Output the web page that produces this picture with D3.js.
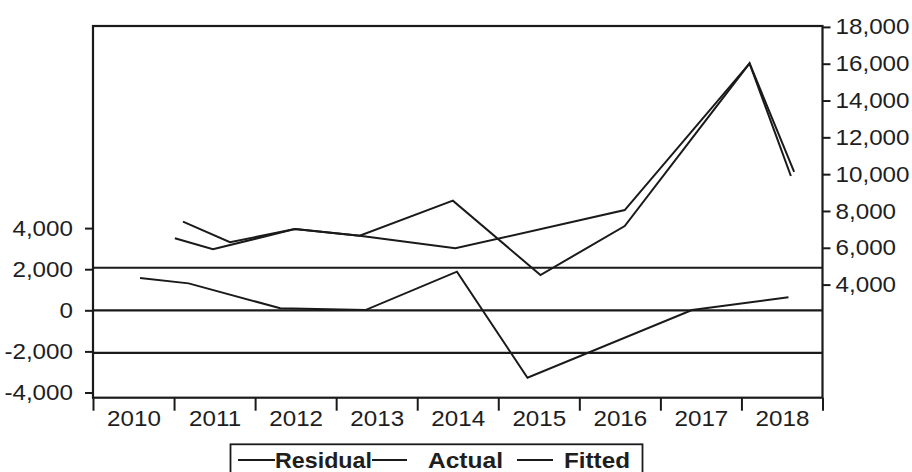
<!DOCTYPE html>
<html>
<head>
<meta charset="utf-8">
<script src="https://cdn.jsdelivr.net/npm/d3@7"></script>
<style>
  html, body { margin: 0; padding: 0; background: #fff; }
  svg { display: block; }
  text { font-family: "Liberation Sans", Arial, sans-serif; fill: #1e1e1e; }
</style>
</head>
<body>
<svg id="chart" width="912" height="472"></svg>
<script>
// ---- data ----
const years = [2010, 2011, 2012, 2013, 2014, 2015, 2016, 2017, 2018];
const residualX = [2010.08, 2010.68, 2011.81, 2012.86, 2013.99, 2014.86, 2016.89, 2018.08];
const residualY = [1570, 1310, 100, 10, 1880, -3280, 10, 630];
const actualX = [2010.61, 2011.19, 2011.99, 2012.79, 2013.94, 2015.02, 2016.06, 2017.60, 2018.15];
const actualY = [7420, 6300, 7020, 6660, 8560, 4520, 7180, 16020, 10130];
const fittedX = [2010.51, 2010.98, 2011.99, 2012.79, 2013.97, 2016.06, 2017.60, 2018.11];
const fittedY = [6520, 5920, 7020, 6660, 5970, 8050, 16020, 9900];
const refLines = [2070, 0, -2070];
const leftTicks = [-4000, -2000, 0, 2000, 4000];
const rightTicks = [4000, 6000, 8000, 10000, 12000, 14000, 16000, 18000];
const legendLabels = ["Residual", "Actual", "Fitted"];

// ---- layout ----
const svg = d3.select("#chart");
const L = 93, R = 822.5, T = 26, B = 397.7;
const ink = "#1a1a1a";
const fmt = d => d3.format(",")(d).replace("\u2212", "-");
const stretch = 1.1;

const x = d3.scaleLinear().domain([2009.5, 2018.5]).range([L, R]);
const yL = d3.scaleLinear().domain([-4000, 4000]).range([392.5, 228.1]);
const yR = d3.scaleLinear().domain([4000, 18000]).range([284.6, 26.9]);

function styleLabels(sel) {
  sel.attr("font-size", 22).attr("font-family", null).attr("fill", ink)
    .each(function () {
      const w = this.getComputedTextLength();
      d3.select(this).attr("textLength", w * stretch).attr("lengthAdjust", "spacingAndGlyphs");
    });
}

// reference lines
svg.append("g").selectAll("line").data(refLines).join("line")
  .attr("x1", L).attr("x2", R)
  .attr("y1", d => yL(d)).attr("y2", d => yL(d))
  .attr("stroke", ink).attr("stroke-width", 2.2);

// series lines
const mk = (xs, ys, ysc) => xs.map((v, i) => [x(v), ysc(ys[i])]);
const lineGen = d3.line();
const series = [
  mk(residualX, residualY, yL),
  mk(actualX, actualY, yR),
  mk(fittedX, fittedY, yR)
];
svg.append("g").selectAll("path").data(series).join("path")
  .attr("d", d => lineGen(d))
  .attr("fill", "none").attr("stroke", ink).attr("stroke-width", 2)
  .attr("stroke-linejoin", "miter");

// frame
svg.append("rect").attr("x", L).attr("y", T).attr("width", R - L).attr("height", B - T)
  .attr("fill", "none").attr("stroke", ink).attr("stroke-width", 2.2);

// left axis
const gl = svg.append("g").attr("transform", `translate(${L},0)`)
  .call(d3.axisLeft(yL).tickValues(leftTicks).tickFormat(fmt).tickSize(8).tickPadding(12));
gl.select(".domain").remove();
gl.selectAll(".tick line").attr("stroke", ink).attr("stroke-width", 2);
styleLabels(gl.selectAll(".tick text"));

// right axis
const gr = svg.append("g").attr("transform", `translate(${R},0)`)
  .call(d3.axisRight(yR).tickValues(rightTicks).tickFormat(fmt).tickSize(8).tickPadding(5));
gr.select(".domain").remove();
gr.selectAll(".tick line").attr("stroke", ink).attr("stroke-width", 2);
styleLabels(gr.selectAll(".tick text"));

// bottom axis: tick marks at year boundaries
const gb = svg.append("g").attr("transform", `translate(0,${B})`)
  .call(d3.axisBottom(x).tickValues(d3.range(years[0] - 0.5, years[years.length - 1] + 0.6, 1))
    .tickFormat("").tickSize(13));
gb.select(".domain").remove();
gb.selectAll(".tick line").attr("stroke", ink).attr("stroke-width", 2);

// bottom axis: labels at year centres
const gb2 = svg.append("g").attr("transform", `translate(0,${B})`)
  .call(d3.axisBottom(x).tickValues(years).tickFormat(d3.format("d")).tickSize(0).tickPadding(13));
gb2.select(".domain").remove();
styleLabels(gb2.selectAll(".tick text"));

// legend
const lg = svg.append("g");
lg.append("rect").attr("x", 230.5).attr("y", 444.3).attr("width", 412).attr("height", 40)
  .attr("fill", "#fff").attr("stroke", ink).attr("stroke-width", 1.8);
const legendItems = [
  { lx1: 238, lx2: 275, tx: 275, tw: 97 },
  { lx1: 372, lx2: 407, tx: 428, tw: 75 },
  { lx1: 517, lx2: 553, tx: 564, tw: 66 }
];
legendItems.forEach((it, i) => {
  lg.append("line").attr("x1", it.lx1).attr("x2", it.lx2).attr("y1", 460).attr("y2", 460)
    .attr("stroke", ink).attr("stroke-width", 1.8);
  lg.append("text").attr("x", it.tx).attr("y", 467.5)
    .attr("font-size", 21.5).attr("font-weight", "bold").attr("fill", ink)
    .attr("textLength", it.tw).attr("lengthAdjust", "spacingAndGlyphs")
    .text(legendLabels[i]);
});
</script>
</body>
</html>
